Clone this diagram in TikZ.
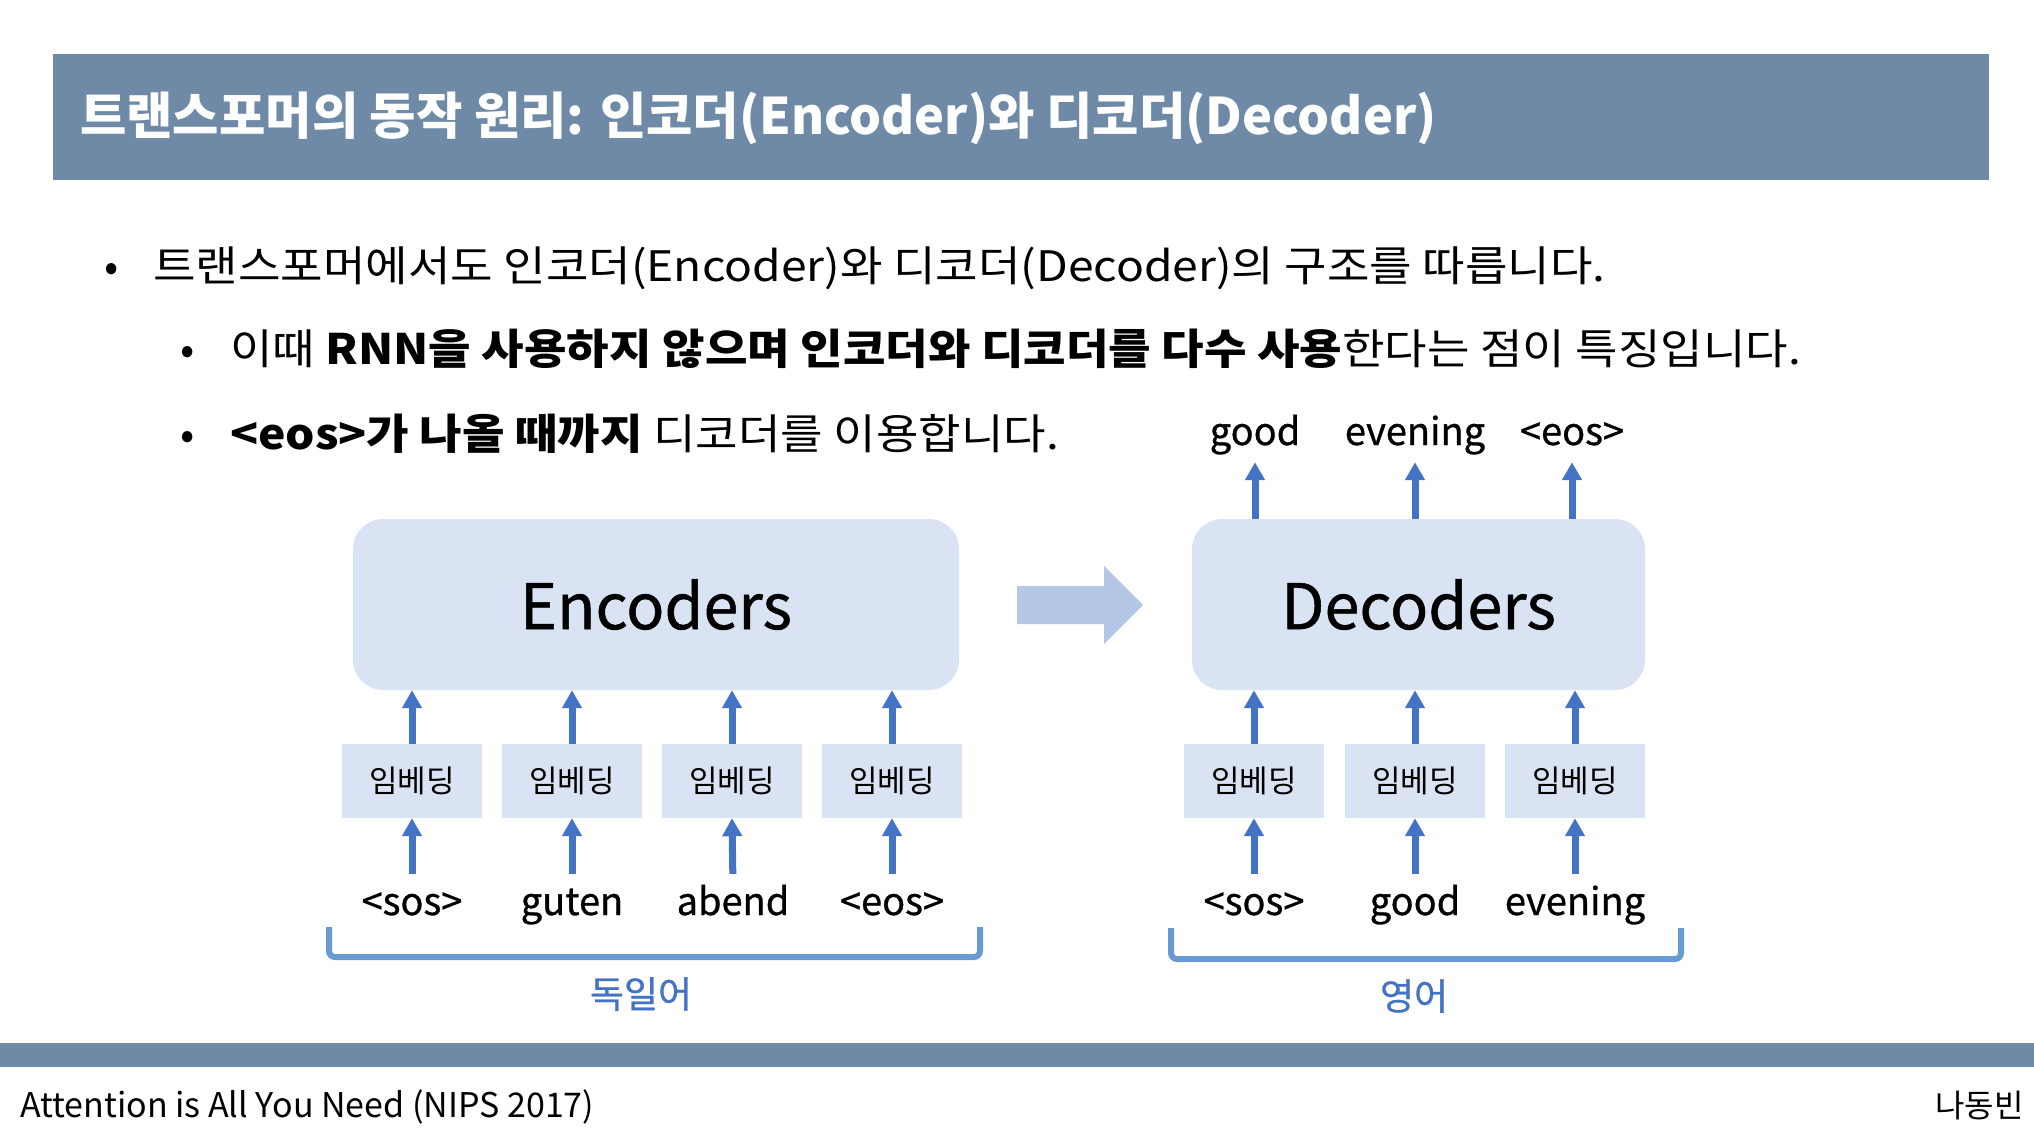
\documentclass[tikz,border=0pt]{standalone}
\usepackage{fontspec}
\setmainfont{Noto Sans CJK KR}
% slightly widened face for the bullet list, heavier face for diagram labels
\newfontfamily\widefont{Noto Sans CJK KR}[FakeStretch=1.1]
\newfontfamily\medfont{Noto Sans CJK KR}[FakeBold=0.8]
\usetikzlibrary{arrows.meta}
\definecolor{barblue}{HTML}{6F8AA6}
\definecolor{boxfill}{HTML}{DAE3F3}
\definecolor{arrowblue}{HTML}{4472C4}
\definecolor{bigarrow}{HTML}{B4C7E7}
\definecolor{bracketblue}{HTML}{6A9AD2}
\newcommand\fsz[1]{\fontsize{#1}{#1}\selectfont}

\begin{document}
\begin{tikzpicture}[x=1pt,y=-1pt,
  embbox/.style={fill=boxfill, minimum width=140pt, minimum height=74pt, inner sep=0pt, font=\fsz{31}},
  blockbox/.style={fill=boxfill, rounded corners=30pt, inner sep=0pt, font=\medfont\fsz{63}},
  word/.style={inner sep=0pt, text height=28pt, text depth=9pt, font=\medfont\fsz{38}, anchor=base},
  bodytext/.style={inner sep=0pt, anchor=base west, font=\widefont\fsz{42}},
  bulletdot/.style={inner sep=0pt, anchor=base, font=\fsz{42}},
  uparrow/.style={draw=arrowblue, line width=7pt, -{Triangle[width=19pt,length=18pt]}},
  langbracket/.style={draw=bracketblue, line width=6pt, rounded corners=6pt},
  langlabel/.style={inner sep=0pt, text=arrowblue, font=\medfont\fsz{37}}
]
\useasboundingbox (0,0) rectangle (2034,1130);

% header and footer bars
\fill[barblue] (53,54) rectangle (1989,180);
\fill[barblue] (0,1043) rectangle (2034,1067);

\node[inner sep=0pt, anchor=base west, text=white, font=\fsz{50.4}\bfseries] (title) at (80,134)
  {트랜스포머의 동작 원리: 인코더(Encoder)와 디코더(Decoder)};

% bullet list
\node[bulletdot] (d1) at (112,281) {•};
\node[bodytext] (t1) at (153,281) {트랜스포머에서도 인코더(Encoder)와 디코더(Decoder)의 구조를 따릅니다.};
\node[bulletdot] (d2) at (188,364) {•};
\node[bodytext] (t2) at (230,364) {이때 \textbf{RNN을 사용하지 않으며 인코더와 디코더를 다수 사용}한다는 점이 특징입니다.};
\node[bulletdot] (d3) at (188,449) {•};
\node[bodytext] (t3) at (230,449) {\textbf{<eos>가 나올 때까지} 디코더를 이용합니다.};

% encoder stack
\node[blockbox, minimum width=606pt, minimum height=171pt] (enc) at (656,604.5) {Encoders};
\node[embbox] (ee1) at (412,781) {임베딩};
\node[embbox] (ee2) at (572,781) {임베딩};
\node[embbox] (ee3) at (732,781) {임베딩};
\node[embbox] (ee4) at (892,781) {임베딩};
\node[word] (ew1) at (412,915) {<sos>};
\node[word] (ew2) at (572,915) {guten};
\node[word] (ew3) at (733,915) {abend};
\node[word] (ew4) at (892,915) {<eos>};
\foreach \i in {1,...,4}{
  \draw[uparrow] (ee\i.north) -- (ee\i.north |- enc.south);
  \draw[uparrow, shorten <=13pt] (ew\i.north) -- (ee\i.south);
}

% decoder stack
\node[blockbox, minimum width=453pt, minimum height=171pt] (dec) at (1418.5,604.5) {Decoders};
\node[embbox] (de1) at (1254,781) {임베딩};
\node[embbox] (de2) at (1415,781) {임베딩};
\node[embbox] (de3) at (1575,781) {임베딩};
\node[word] (dw1) at (1254,915) {<sos>};
\node[word] (dw2) at (1415,915) {good};
\node[word] (dw3) at (1575,915) {evening};
\node[word] (ow1) at (1255,445) {good};
\node[word] (ow2) at (1415,445) {evening};
\node[word] (ow3) at (1572,445) {<eos>};
\foreach \i in {1,2,3}{
  \draw[uparrow] (de\i.north) -- (de\i.north |- dec.south);
  \draw[uparrow, shorten <=13pt] (dw\i.north) -- (de\i.south);
  \draw[uparrow, shorten >=8pt] (ow\i.south |- dec.north) -- (ow\i.south);
}

% block arrow between the stacks
\fill[bigarrow] (1017,586) -- (1104,586) -- (1104,566) -- (1143,605)
  -- (1104,644) -- (1104,624) -- (1017,624) -- cycle;

% language brackets
\draw[langbracket] (329,927) -- (329,957) -- (980,957) -- (980,927);
\node[langlabel] (de) at (641,994) {독일어};
\draw[langbracket] (1171,928) -- (1171,959) -- (1681,959) -- (1681,928);
\node[langlabel] (en) at (1414,996) {영어};

% footer text
\node[inner sep=0pt, anchor=base west, font=\fsz{34}] (ref) at (20,1117) {Attention is All You Need (NIPS 2017)};
\node[inner sep=0pt, anchor=base east, font=\fsz{32}] (author) at (2024,1117) {나동빈};
\end{tikzpicture}
\end{document}
